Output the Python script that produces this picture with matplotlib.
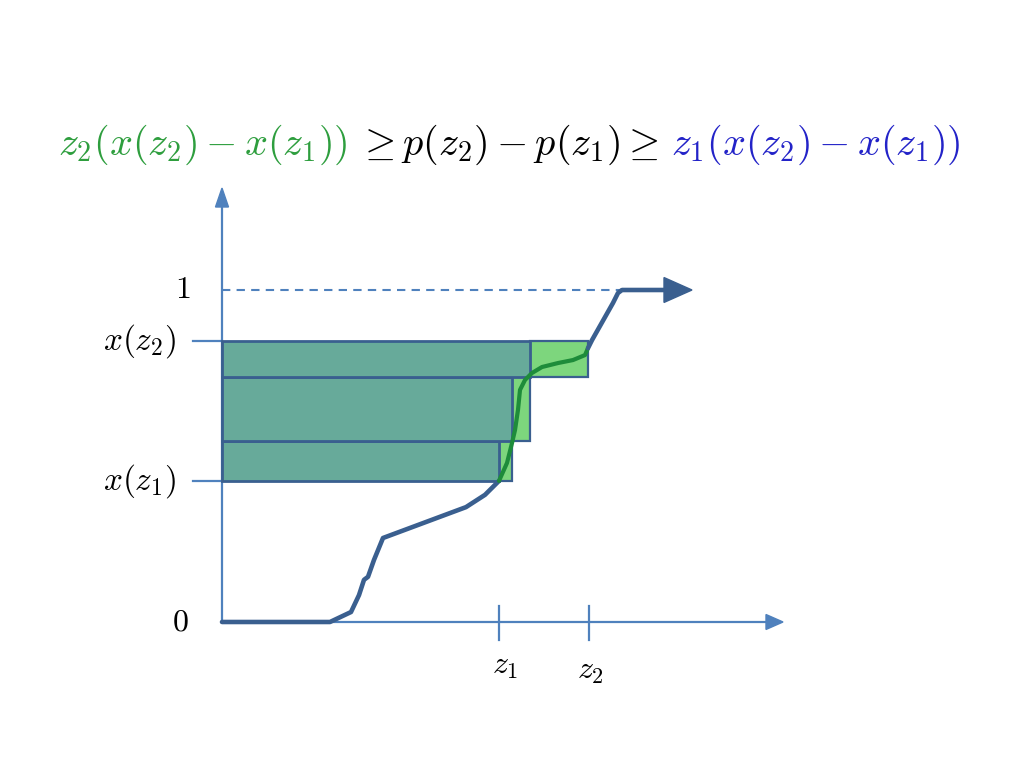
import matplotlib
matplotlib.use("Agg")
import matplotlib.pyplot as plt
from matplotlib.patches import Rectangle, FancyArrow

plt.rcParams['mathtext.fontset'] = 'cm'

# price curve x(z), lower part (blue), middle part (green), upper part (blue)
low_z = [0, 1.08, 1.29, 1.37, 1.42, 1.46, 1.52, 1.61, 2.44, 2.63, 2.77]
low_x = [0, 0, 0.030, 0.081, 0.127, 0.136, 0.187, 0.253, 0.346, 0.383, 0.425]
mid_z = [2.77, 2.85, 2.90, 2.93, 2.96, 2.98, 3.03, 3.10, 3.20, 3.36, 3.51, 3.63, 3.66]
mid_x = [0.425, 0.479, 0.539, 0.578, 0.639, 0.699, 0.729, 0.750, 0.768, 0.780, 0.789, 0.804, 0.825]
up_z = [3.66, 3.70, 3.91, 3.96, 4.00, 4.42]
up_x = [0.825, 0.849, 0.961, 0.991, 1.0, 1.0]

z1 = 2.77
z2 = 3.67

# strips: lower edge, upper edge, lower width, upper width
strip_lo = [0.425, 0.545, 0.738]
strip_hi = [0.545, 0.738, 0.846]
strip_zlo = [2.77, 2.90, 3.08]
strip_zhi = [2.90, 3.08, 3.66]

axis_col = '#4F81BD'
curve_col = '#3A5F8F'
green_col = '#1E8C3A'
teal = '#67AA9A'
light_green = '#7DD67D'

fig = plt.figure(figsize=(10.24, 7.68), dpi=100)
ax = fig.add_axes([0, 0, 1, 1])
ax.set_xlim(-2.22, 8.02)
ax.set_ylim(-0.4398, 1.8735)
ax.axis('off')

# strips
for lo, hi, a, b in zip(strip_lo, strip_hi, strip_zlo, strip_zhi):
    ax.add_patch(Rectangle((a, lo), b - a, hi - lo, facecolor=light_green,
                           edgecolor=curve_col, lw=1.6, zorder=2))
    ax.add_patch(Rectangle((0, lo), a, hi - lo, facecolor=teal,
                           edgecolor=curve_col, lw=2.0, zorder=3))

# axes with arrows
ax.plot([0, 5.45], [0, 0], color=axis_col, lw=1.6, zorder=1)
ax.add_patch(FancyArrow(5.44, 0, 0.17, 0, width=0, head_width=0.045,
                        head_length=0.17, length_includes_head=True,
                        color=axis_col, zorder=1))
ax.plot([0, 0], [0, 1.25], color=axis_col, lw=1.6, zorder=1)
ax.add_patch(FancyArrow(0, 1.25, 0, 0.057, width=0, head_width=0.13,
                        head_length=0.057, length_includes_head=True,
                        color=axis_col, zorder=1))

# dashed line at 1
ax.plot([0, 4.0], [1, 1], color=axis_col, lw=1.5, ls=(0, (4, 3)), zorder=1)

# ticks
for v in [strip_hi[-1], strip_lo[0]]:
    ax.plot([-0.29, 0], [v, v], color=axis_col, lw=1.6, zorder=1)
for v in [z1, z2]:
    ax.plot([v, v], [-0.054, 0.048], color=axis_col, lw=1.6, zorder=1)

# curve
ax.plot(low_z, low_x, color=curve_col, lw=3.3, solid_capstyle='round',
        solid_joinstyle='round', zorder=4)
ax.plot(mid_z, mid_x, color=green_col, lw=3.0, solid_capstyle='round',
        solid_joinstyle='round', zorder=4)
ax.plot(up_z, up_x, color=curve_col, lw=3.3, solid_capstyle='round',
        solid_joinstyle='round', zorder=4)
ax.add_patch(FancyArrow(4.40, 1.0, 0.30, 0, width=0, head_width=0.075,
                        head_length=0.28, length_includes_head=True,
                        color=curve_col, zorder=4))

# labels
fs = 23
ax.text(-0.32, 1.0, r'$1$', fontsize=fs, ha='right', va='center')
ax.text(-0.33, 0.0, r'$0$', fontsize=fs, ha='right', va='center')
ax.text(-0.46, strip_hi[-1], r'$x(z_2)$', fontsize=fs + 1, ha='right', va='center')
ax.text(-0.46, strip_lo[0], r'$x(z_1)$', fontsize=fs + 1, ha='right', va='center')
ax.text(z1 + 0.06, -0.085, r'$z_1$', fontsize=fs, ha='center', va='top')
ax.text(z2 + 0.01, -0.10, r'$z_2$', fontsize=fs, ha='center', va='top')

# title built from three coloured pieces
tfs = 29
t1 = fig.text(0.057, 0.783, r'$z_2(x(z_2)-x(z_1))$', fontsize=tfs,
              color='#2E9E3E', ha='left', va='bottom')
t2 = ax.annotate(r'$\geq p(z_2)-p(z_1)\geq$', xy=(1, 0), xycoords=t1,
                 xytext=(6.5, 0), textcoords='offset points',
                 fontsize=tfs, color='black', ha='left', va='bottom')
t3 = ax.annotate(r'$z_1(x(z_2)-x(z_1))$', xy=(1, 0), xycoords=t2,
                 xytext=(9, 0), textcoords='offset points',
                 fontsize=tfs, color='#2323C8', ha='left', va='bottom')

fig.savefig('out.png', dpi=100)
